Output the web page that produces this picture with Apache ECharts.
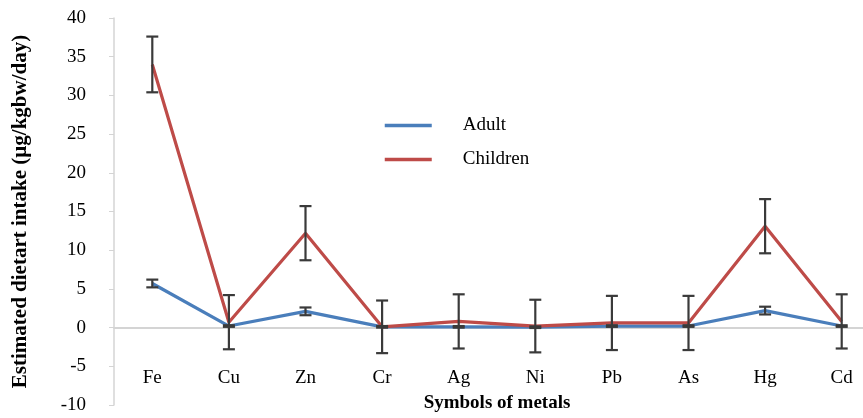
<!DOCTYPE html>
<html lang="en" style="height: 100%">
<head>
  <meta charset="utf-8">
</head>
<body style="height: 100%; margin: 0; background: #fff">
  <div id="container" style="width: 863px; height: 418px"></div>

  <script type="text/javascript" src="https://cdn.jsdelivr.net/npm/echarts@6/dist/echarts.min.js"></script>

  <script type="text/javascript">
    var dom = document.getElementById('container');
    var myChart = echarts.init(dom, null, { renderer: 'canvas' });

    const metals = ['Fe', 'Cu', 'Zn', 'Cr', 'Ag', 'Ni', 'Pb', 'As', 'Hg', 'Cd'];
    const adult = [5.7, 0.2, 2.1, 0.1, 0.1, 0.05, 0.2, 0.2, 2.2, 0.2];
    const adultErr = [0.5, 0.1, 0.5, 0.1, 0.1, 0.1, 0.1, 0.1, 0.5, 0.1];
    const children = [34, 0.7, 12.2, 0.1, 0.8, 0.2, 0.6, 0.6, 13.1, 0.8];
    const childrenErr = [3.6, 3.5, 3.5, 3.4, 3.5, 3.4, 3.5, 3.5, 3.5, 3.5];

    const serif = '"Liberation Serif", "DejaVu Serif", serif';

    // error bar rows: [index, low, high]
    function errRows(vals, errs) {
      return vals.map(function (v, i) {
        return [i, v - errs[i], v + errs[i]];
      });
    }

    function renderErr(params, api) {
      const x = api.value(0);
      const lo = api.coord([x, api.value(1)]);
      const hi = api.coord([x, api.value(2)]);
      const half = 6;
      const style = { stroke: '#3a3a3a', lineWidth: 2.2 };
      return {
        type: 'group',
        children: [
          { type: 'line', shape: { x1: hi[0], y1: hi[1], x2: lo[0], y2: lo[1] }, style: style },
          { type: 'line', shape: { x1: hi[0] - half, y1: hi[1], x2: hi[0] + half, y2: hi[1] }, style: style },
          { type: 'line', shape: { x1: lo[0] - half, y1: lo[1], x2: lo[0] + half, y2: lo[1] }, style: style }
        ]
      };
    }

    var option = {
      animation: false,
      textStyle: { fontFamily: serif },
      grid: { left: 114, top: 18, bottom: 13, width: 766, outerBoundsMode: 'none', containLabel: false },
      legend: {
        orient: 'vertical',
        left: 378,
        top: 111,
        itemWidth: 47,
        itemHeight: 14,
        itemGap: 15,
        data: ['Adult', 'Children'],
        itemStyle: { opacity: 0 },
        lineStyle: { width: 3.5 },
        textStyle: { fontFamily: serif, fontSize: 19, color: '#000', padding: [0, 0, 0, 26] }
      },
      xAxis: {
        type: 'category',
        data: metals,
        boundaryGap: true,
        axisLine: { onZero: true, lineStyle: { color: '#d4d4d4', width: 2 } },
        axisTick: { show: false },
        axisLabel: { inside: true, margin: 17, fontSize: 19, color: '#000', fontFamily: serif },
        name: 'Symbols of metals',
        nameLocation: 'middle',
        nameGap: -11,
        nameTextStyle: { fontFamily: serif, fontSize: 19, fontWeight: 'bold', color: '#000' }
      },
      yAxis: {
        type: 'value',
        min: -10,
        max: 40,
        interval: 5,
        axisLine: { show: true, lineStyle: { color: '#d4d4d4', width: 1.5 } },
        axisTick: { show: true, length: 5, lineStyle: { color: '#d4d4d4' } },
        splitLine: { show: false },
        axisLabel: { margin: 28, fontSize: 19, color: '#000', fontFamily: serif },
        name: 'Estimated dietart intake (µg/kgbw/day)',
        nameLocation: 'middle',
        nameGap: 83,
        nameTextStyle: { fontFamily: serif, fontSize: 21, fontWeight: 'bold', color: '#000' }
      },
      series: [
        {
          name: 'Adult',
          type: 'line',
          data: adult,
          symbol: 'none',
          lineStyle: { color: '#4a7ebb', width: 3.2 },
          itemStyle: { color: '#4a7ebb' },
          z: 3
        },
        {
          name: 'Children',
          type: 'line',
          data: children,
          symbol: 'none',
          lineStyle: { color: '#be4b48', width: 3.2 },
          itemStyle: { color: '#be4b48' },
          z: 3
        },
        {
          type: 'custom',
          renderItem: renderErr,
          data: errRows(adult, adultErr),
          encode: { x: 0, y: [1, 2] },
          z: 5
        },
        {
          type: 'custom',
          renderItem: renderErr,
          data: errRows(children, childrenErr),
          encode: { x: 0, y: [1, 2] },
          z: 5
        }
      ]
    };

    myChart.setOption(option);
    window.addEventListener('resize', myChart.resize);
  </script>
</body>
</html>
